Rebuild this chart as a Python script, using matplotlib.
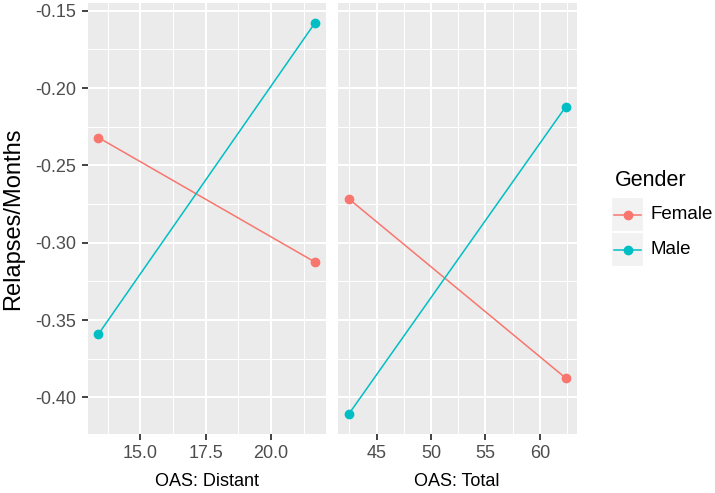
import matplotlib.pyplot as plt
import matplotlib.ticker as mticker
from matplotlib.lines import Line2D
from matplotlib.patches import Rectangle

plt.rcParams['font.family'] = ['Liberation Sans', 'DejaVu Sans']

# values
genders = ['Female', 'Male']
colors = {'Female': '#F8766D', 'Male': '#00BFC4'}

distant_x = [13.39, 21.69]
distant_y = {'Female': [-0.232, -0.3126], 'Male': [-0.3592, -0.1577]}

total_x = [42.42, 62.39]
total_y = {'Female': [-0.2715, -0.3876], 'Male': [-0.411, -0.212]}

y_ticks = [-0.15, -0.20, -0.25, -0.30, -0.35, -0.40]
distant_ticks = [15.0, 17.5, 20.0]
total_ticks = [45, 50, 55, 60]

W, H = 715, 493
fig = plt.figure(figsize=(W / 100, H / 100), dpi=100)
ax1 = fig.add_axes([87.5 / W, 1 - 434 / H, 238.5 / W, 431 / H])
ax2 = fig.add_axes([337.7 / W, 1 - 434 / H, 239 / W, 431 / H], sharey=ax1)


def style(ax, xticks, xminor):
    ax.set_facecolor('#EBEBEB')
    for s in ax.spines.values():
        s.set_visible(False)
    ax.set_xticks(xticks)
    ax.set_xticks(xminor, minor=True)
    ax.grid(True, which='major', color='white', linewidth=1.5)
    ax.grid(True, which='minor', color='white', linewidth=0.75)
    ax.set_axisbelow(True)
    ax.tick_params(which='major', length=4.5, width=1.3, color='#333333',
                   labelcolor='#4D4D4D', labelsize=13, pad=3.5)
    ax.tick_params(which='minor', length=0)


for g in genders:
    ax1.plot(distant_x, distant_y[g], color=colors[g], lw=1.1,
             marker='o', ms=6, zorder=3)
    ax2.plot(total_x, total_y[g], color=colors[g], lw=1.1,
             marker='o', ms=6, zorder=3)

style(ax1, distant_ticks, [13.75, 16.25, 18.75, 21.25])
style(ax2, total_ticks, [42.5, 47.5, 52.5, 57.5, 62.5])

ax1.set_xlim(12.975, 22.105)
ax2.set_xlim(41.42, 63.39)
ax1.set_yticks(y_ticks)
ax1.set_yticks([-0.175, -0.225, -0.275, -0.325, -0.375, -0.425], minor=True)
ax1.yaxis.set_major_formatter(mticker.FormatStrFormatter('%.2f'))
ax1.set_ylim(-0.4237, -0.145)
ax1.xaxis.set_major_formatter(mticker.FormatStrFormatter('%.1f'))
ax2.tick_params(axis='y', which='both', left=False, labelleft=False)

ax1.set_xlabel('OAS: Distant', fontsize=13, labelpad=8)
ax2.set_xlabel('OAS: Total', fontsize=13, labelpad=8)
ax1.set_ylabel('Relapses/Months', fontsize=17, labelpad=8)

# legend drawn by hand in ggplot style
fig.text(615 / W, 1 - 181 / H, 'Gender', fontsize=15.5, va='center', ha='left')
key_top = [198, 233]
for g, top in zip(genders, key_top):
    fig.add_artist(Rectangle((612 / W, 1 - (top + 33) / H), 31 / W, 33 / H,
                             transform=fig.transFigure, facecolor='#F2F2F2',
                             edgecolor='none'))
    yc = 1 - (top + 16.5) / H
    fig.add_artist(Line2D([614 / W, 641 / W], [yc, yc], color=colors[g],
                          lw=1.1, transform=fig.transFigure))
    fig.add_artist(Line2D([627.5 / W], [yc], color=colors[g], marker='o',
                          ms=6, transform=fig.transFigure))
    fig.text(651 / W, yc, g, fontsize=13.5, va='center', ha='left')

fig.savefig('out.png', dpi=100)
